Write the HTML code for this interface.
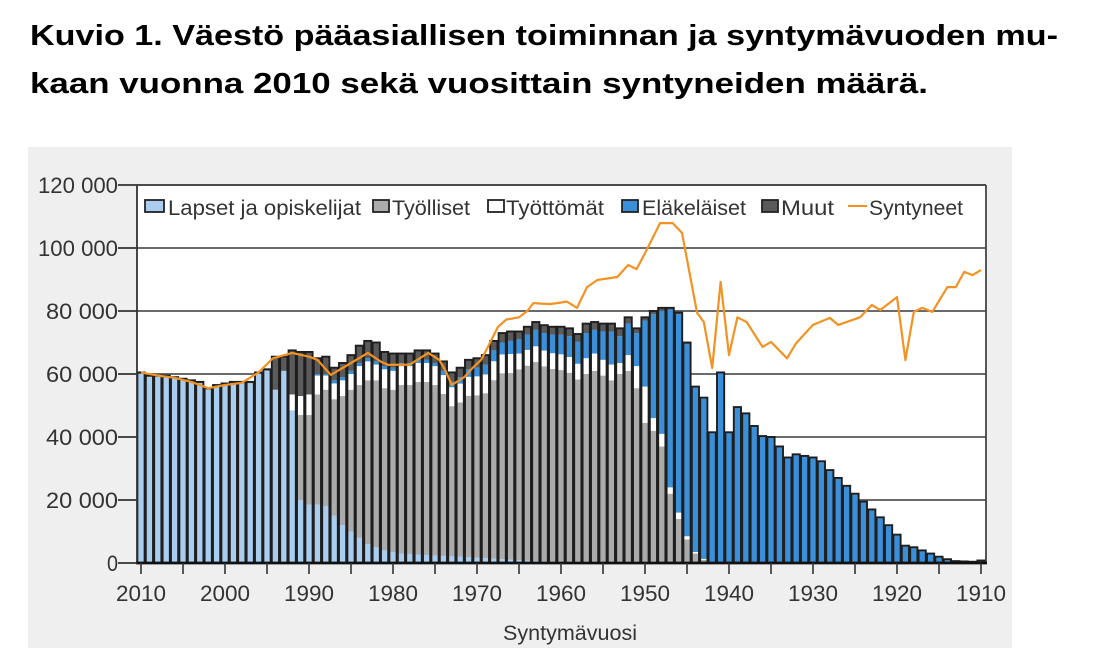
<!DOCTYPE html>
<html><head><meta charset="utf-8"><style>
body{margin:0;background:#fff;width:1099px;height:660px;overflow:hidden}
svg{display:block}
</style></head><body>
<svg id="s" width="1099" height="660" xmlns="http://www.w3.org/2000/svg" font-family="Liberation Sans, sans-serif">
<text x="30" y="45" font-size="29" font-weight="bold" textLength="1028" lengthAdjust="spacingAndGlyphs">Kuvio 1. Väestö pääasiallisen toiminnan ja syntymävuoden mu-</text>
<text x="30" y="93" font-size="29" font-weight="bold" textLength="898" lengthAdjust="spacingAndGlyphs">kaan vuonna 2010 sekä vuosittain syntyneiden määrä.</text>
<rect x="28" y="147" width="984" height="501" fill="#efefef"/>
<rect x="137" y="185" width="849" height="378" fill="#fff"/>
<g id="grid"></g>
<g id="bars"></g>
<g id="line"></g>
<g id="axes"></g>
<g id="legend">
<rect x="145" y="200" width="19" height="12" fill="#a9cdee" stroke="#222" stroke-width="1.8"/>
<text x="168" y="215" font-size="21" fill="#333" textLength="193" lengthAdjust="spacingAndGlyphs">Lapset ja opiskelijat</text>
<rect x="373" y="200" width="16" height="12" fill="#ababab" stroke="#222" stroke-width="1.8"/>
<text x="392" y="215" font-size="21" fill="#333" textLength="78" lengthAdjust="spacingAndGlyphs">Työlliset</text>
<rect x="488" y="200" width="16" height="12" fill="#fff" stroke="#222" stroke-width="1.8"/>
<text x="506" y="215" font-size="21" fill="#333" textLength="98" lengthAdjust="spacingAndGlyphs">Työttömät</text>
<rect x="622" y="200" width="16" height="12" fill="#3a8fd8" stroke="#222" stroke-width="1.8"/>
<text x="642" y="215" font-size="21" fill="#333" textLength="104" lengthAdjust="spacingAndGlyphs">Eläkeläiset</text>
<rect x="762" y="200" width="16" height="12" fill="#5a5a5a" stroke="#222" stroke-width="1.8"/>
<text x="781" y="215" font-size="21" fill="#333" textLength="53" lengthAdjust="spacingAndGlyphs">Muut</text>
<line x1="848" y1="206" x2="867" y2="206" stroke="#f39222" stroke-width="2"/>
<text x="869" y="215" font-size="21" fill="#333" textLength="94" lengthAdjust="spacingAndGlyphs">Syntyneet</text>
</g>
<text x="570" y="640" font-size="21" fill="#333" text-anchor="middle" textLength="134" lengthAdjust="spacingAndGlyphs">Syntymävuosi</text>
</svg>
<script>
(function(){
var NS="http://www.w3.org/2000/svg";
function el(p,t,a){var e=document.createElementNS(NS,t);for(var k in a)e.setAttribute(k,a[k]);document.getElementById(p).appendChild(e);return e;}
function X(y){return 141+(2010-y)*8.4;}
function Y(v){return 563-v*63/20;}
for(var v=20;v<=120;v+=20){el("grid","line",{x1:137,y1:Y(v),x2:986,y2:Y(v),stroke:"#555","stroke-width":1.8});}
var T=[60.5,59.5,59.5,59.5,59,58.5,58,57.5,55.5,56.5,57,57.5,57.5,57.5,60.5,61.5,65.5,65.5,67.5,67,67,65,65.5,62,63.5,66,69,70.5,70,67,66.5,66.5,66.5,67.5,67.5,66.5,64,60.5,62,64.5,65,66,70.5,73,73.5,73.5,75,76.5,75.5,75,75,74.5,72.7,76,76.5,76,76,74.5,78,74.5,78,80,81,81,79.5,70,56,52.5,41.5,60.5,41.5,49.5,47.5,43.5,40.3,40,37,33.5,34.5,34,33.5,32.3,29.5,27,24.5,22,19.5,17,14.5,12,9,5.5,5,4,3,2,1.2,0.6,0.5,0.4,0.8];
var ex={
1994:[55,55,55,55],1993:[61,61,61,61],
1992:[48.5,48.5,53.5,53.5],1991:[20,47,53,53],1990:[18.5,47,53.5,53.5],
1989:[18.5,53.5,59.5,60],1988:[18,55,59.5,60],1987:[15,52,57,58],1986:[12,53,58,59],
1985:[10,55,60,61],1984:[8,56.5,62.5,63.5],1983:[6,58,64,65],1982:[5,58,63,64],
1981:[4,55.5,61.5,62.5],1980:[3.5,55,61,62],
1957:[0.5,60,65,73],1956:[0.5,61,66.5,74],1955:[0.5,59.5,64.5,73.5],1954:[0.5,58,63,73.5],
1953:[0.5,60,63.5,72],1952:[0.5,61,66,76],1951:[0.5,55.5,62.5,73],1950:[0.5,44.5,56,77],
1949:[0.5,42,46,79],1948:[0.4,37,41,80],1947:[0.3,22,24,80.5],1946:[0.2,14,16,79],
1945:[0.1,7.5,8.5,69.5],1944:[0,3,3.5,55.7],1943:[0,1,1.3,52.2]
};
var cols=["#a9cdee","#ababab","#ffffff","#3a8fd8","#5a5a5a"];
for(var i=0;i<T.length;i++){
 var yr=2010-i,t=T[i],b;
 if(ex[yr])b=ex[yr];
 else if(yr>=1995){b=[t-0.4,t-0.4,t-0.4,t-0.4];}
 else if(yr>=1958){
   var c=Math.max(0.5,3-(1979-yr)*0.15);
   var p=yr>=1975?1:1+(1975-yr)*0.35;
   var o=yr>=1966?3:2.5, u=yr>=1966?6:5;
   var e=t-c-u-p-o;
   b=[c,c+e,c+e+u,c+e+u+p];
 } else {b=[0,0,0,t-0.3];}
 var tops=[b[0],b[1],b[2],b[3],t],prev=0;
 var x=X(yr)-3.6;
 for(var k=0;k<5;k++){
   var h=tops[k]-prev;
   if(h>0.01){el("bars","rect",{x:x,y:Y(tops[k]),width:7.2,height:h*63/20,fill:cols[k]});}
   prev=Math.max(prev,tops[k]);
 }
 el("bars","rect",{x:x,y:Y(t),width:7.2,height:t*63/20,fill:"none",stroke:"#1e1e1e","stroke-width":1.9});
}
var L=[[2010,60.5],[2008,59.5],[2006,58.8],[2004,57.5],[2002,55.5],[2000,56.5],[1998,57.2],[1996,60.5],[1994.3,65],[1992,66.7],[1990,65.5],[1989,64.5],[1987.4,59.7],[1985,63.5],[1983,66.7],[1981.5,64],[1980.6,62.9],[1978,63],[1975.8,66.7],[1974.5,64.5],[1973.8,61.3],[1973,56.5],[1971.5,59],[1970.5,62],[1969.5,64.5],[1968.7,68.6],[1967.5,75],[1966.5,77.3],[1965,78],[1964,80],[1963.3,82.5],[1961.3,82.2],[1959.3,83],[1958.1,81],[1956.9,87.6],[1955.7,89.8],[1953.3,90.8],[1952,94.6],[1951,93.3],[1949.8,99.4],[1948.2,107.9],[1946.7,107.9],[1945.6,104.8],[1943.8,79.4],[1943,76.5],[1942,61.9],[1941,89.2],[1940,66],[1939,78],[1937.9,76.5],[1936,68.6],[1935,70.2],[1933.1,65],[1932,69.8],[1930,75.6],[1928,77.8],[1927,75.6],[1924.4,78],[1923,81.9],[1922,80.3],[1920,84.4],[1919,64.4],[1918,79.7],[1917,81],[1915.8,79.7],[1914,87.6],[1913,87.6],[1912,92.4],[1911,91.4],[1910,93]];
var d="";for(var j=0;j<L.length;j++){d+=(j?"L":"M")+X(L[j][0]).toFixed(1)+","+Y(L[j][1]).toFixed(1);}
el("line","path",{d:d,fill:"none",stroke:"#f39222","stroke-width":2.2,"stroke-linejoin":"round"});
el("axes","line",{x1:137,y1:185,x2:137,y2:564,stroke:"#333","stroke-width":1.8});
el("axes","line",{x1:137,y1:185,x2:986,y2:185,stroke:"#444","stroke-width":1.8});
el("axes","line",{x1:986,y1:185,x2:986,y2:563,stroke:"#444","stroke-width":1.8});
el("axes","line",{x1:136,y1:563,x2:987,y2:563,stroke:"#111","stroke-width":2.8});
var lab=["0","20 000","40 000","60 000","80 000","100 000","120 000"];
var lw=[11,72,72,72,72,80,80];
for(var m=0;m<=6;m++){
 var yy=Y(m*20);
 el("axes","line",{x1:118,y1:yy,x2:137,y2:yy,stroke:"#333","stroke-width":1.8});
 var tx=el("axes","text",{x:118-lw[m],y:yy+8,"font-size":22,fill:"#333",textLength:lw[m],lengthAdjust:"spacingAndGlyphs"});tx.textContent=lab[m];
}
for(var yr2=2010;yr2>=1910;yr2-=5){
 el("axes","line",{x1:X(yr2),y1:563,x2:X(yr2),y2:574,stroke:"#333","stroke-width":1.6});
 if(yr2%10==0){var t2=el("axes","text",{x:X(yr2)-25,y:601,"font-size":22,fill:"#333",textLength:50,lengthAdjust:"spacingAndGlyphs"});t2.textContent=yr2;}
}
})();
</script>
</body></html>
